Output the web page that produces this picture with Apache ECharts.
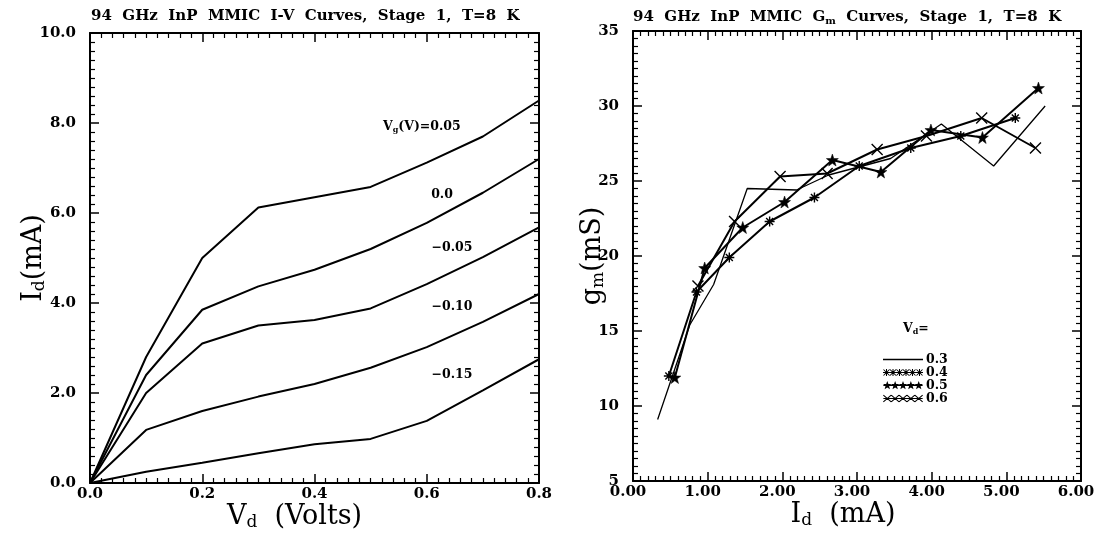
<!DOCTYPE html>
<html>
<head>
<meta charset="utf-8">
<title>94 GHz InP MMIC curves</title>
<script src="https://cdn.jsdelivr.net/npm/echarts@6/dist/echarts.min.js"></script>
<style>
  html, body { margin: 0; padding: 0; background: #fff; }
  #chart { width: 1101px; height: 533px; }
</style>
</head>
<body>
<div id="chart"></div>
<script>
// I-V curves (left), drain voltage in volts, drain current in mA
var vdVolts = [0, 0.1, 0.2, 0.3, 0.4, 0.5, 0.6, 0.7, 0.8];
var idVg005 = [0, 2.8, 5.0, 6.12, 6.35, 6.58, 7.12, 7.7, 8.5];
var idVg000 = [0, 2.4, 3.85, 4.37, 4.74, 5.2, 5.78, 6.45, 7.2];
var idVgm005 = [0, 2.0, 3.1, 3.5, 3.62, 3.88, 4.42, 5.02, 5.68];
var idVgm010 = [0, 1.18, 1.6, 1.92, 2.2, 2.56, 3.02, 3.58, 4.2];
var idVgm015 = [0, 0.25, 0.45, 0.66, 0.86, 0.98, 1.38, 2.06, 2.75];
var vgNames = ['0.05', '0.0', '-0.05', '-0.10', '-0.15'];

// gm curves (right), drain current in mA, gm in mS
var gm03Id = [0.33, 0.76, 1.08, 1.53, 2.19, 2.62, 3.45, 4.13, 4.83, 5.52];
var gm03 = [9.1, 15.4, 18.1, 24.5, 24.4, 25.4, 26.5, 28.8, 26.0, 30.0];
var gm04Id = [0.48, 0.85, 1.29, 1.83, 2.43, 3.03, 3.72, 4.39, 5.12];
var gm04 = [12.0, 17.6, 19.9, 22.3, 23.9, 26.0, 27.2, 28.0, 29.2];
var gm05Id = [0.56, 0.96, 1.47, 2.03, 2.67, 3.32, 3.99, 4.68, 5.43];
var gm05 = [11.9, 19.2, 21.9, 23.6, 26.4, 25.6, 28.4, 27.9, 31.2];
var gm06Id = [0.87, 1.36, 1.97, 2.6, 3.27, 3.93, 4.67, 5.39];
var gm06 = [18.0, 22.3, 25.3, 25.5, 27.1, 28.0, 29.2, 27.2];
var vdNames = ['0.3', '0.4', '0.5', '0.6'];

var serif = 'DejaVu Serif';
var symAsterisk = 'path://M0,-10L0,10M-10,0L10,0M-7,-7L7,7M-7,7L7,-7';
var symStar = 'path://M0,-10L2.35,-3.24L9.51,-3.09L3.8,1.24L5.88,8.09L0,4L-5.88,8.09L-3.8,1.24L-9.51,-3.09L-2.35,-3.24Z';
var symCross = 'path://M-10,-8L10,8M-10,8L10,-8';

function pairs(xs, ys) {
    var out = [];
    for (var i = 0; i < xs.length; i++) out.push([xs[i], ys[i]]);
    return out;
}
function eachOf(arr, fn) {
    for (var i = 0; i < arr.length; i++) fn(i, arr[i]);
}

// legend samples: filled outlines in a 40x10 box
function bar(x1, y1, x2, y2, w) {
    var dx = x2 - x1, dy = y2 - y1, len = Math.sqrt(dx * dx + dy * dy);
    var nx = -dy / len * w, ny = dx / len * w;
    return 'M' + (x1 + nx) + ',' + (y1 + ny) + 'L' + (x2 + nx) + ',' + (y2 + ny) +
        'L' + (x2 - nx) + ',' + (y2 - ny) + 'L' + (x1 - nx) + ',' + (y1 - ny) + 'Z';
}
function star(cx, cy, r) {
    var d = '';
    for (var i = 0; i < 10; i++) {
        var a = -Math.PI / 2 - i * Math.PI / 5;
        var rr = i % 2 ? r * 0.42 : r;
        d += (i ? 'L' : 'M') + (cx + rr * Math.cos(a)).toFixed(2) + ',' + (cy + rr * Math.sin(a)).toFixed(2);
    }
    return d + 'Z';
}
var iconBox = 'M0,0L0,0M40,10L40,10';
function iconLine(w) { return iconBox + bar(0, 5, 40, 5, w); }
function iconAsterisks() {
    var d = iconLine(0.6);
    eachOf([3.5, 10, 16.5, 23, 29.5, 36.5], function (k, cx) {
        d += bar(cx, 1.5, cx, 8.5, 0.5) + bar(cx - 3.5, 5, cx + 3.5, 5, 0.5) +
            bar(cx - 3, 2, cx + 3, 8, 0.5) + bar(cx - 3, 8, cx + 3, 2, 0.5);
    });
    return 'path://' + d;
}
function iconStars() {
    var d = iconLine(0.6);
    eachOf([4, 12, 20, 28, 36], function (k, cx) { d += star(cx, 5, 4.6); });
    return 'path://' + d;
}
function iconCrosses() {
    var d = iconLine(0.6);
    eachOf([4, 12, 20, 28, 36], function (k, cx) {
        d += bar(cx - 4, 1.5, cx + 4, 8.5, 0.55) + bar(cx - 4, 8.5, cx + 4, 1.5, 0.55);
    });
    return 'path://' + d;
}

// frame axis with inward ticks, labels only where wanted
function frameAxis(gridIndex, position, min, max, interval, decimals, labelMargin) {
    return {
        type: 'value',
        gridIndex: gridIndex,
        position: position,
        min: min,
        max: max,
        interval: interval,
        splitLine: { show: false },
        axisLine: { show: true, onZero: false, lineStyle: { color: '#000', width: 2 } },
        axisTick: { show: true, inside: true, length: 9, lineStyle: { color: '#000', width: 1.5 } },
        minorTick: { show: true, splitNumber: 10, length: 5, lineStyle: { color: '#000', width: 1.2 } },
        axisLabel: {
            show: decimals !== null,
            margin: labelMargin,
            color: '#000',
            fontFamily: serif,
            fontWeight: 'bold',
            fontSize: 15,
            formatter: function (v) { return v.toFixed(decimals); }
        }
    };
}

var nameRich = {
    m: { fontFamily: serif, fontSize: 27, color: '#000' },
    s: { fontFamily: serif, fontSize: 17, color: '#000', padding: [12, 0, 0, 0] }
};

var xLeft = frameAxis(0, 'bottom', 0, 0.8, 0.2, 1, 4);
xLeft.name = '{m|V}{s|d}{m|  (Volts)}';
xLeft.nameLocation = 'middle';
xLeft.nameGap = 19;
xLeft.nameMoveOverlap = false;
xLeft.nameTextStyle = { rich: nameRich, padding: [0, 40, 0, 0] };

var xRight = frameAxis(1, 'bottom', 0, 6, 1, 2, 4);
xRight.axisLabel.padding = [0, 10, 0, 0];
xRight.name = '{m|I}{s|d}{m|  (mA)}';
xRight.nameLocation = 'middle';
xRight.nameGap = 19;
xRight.nameMoveOverlap = false;
xRight.nameTextStyle = { rich: nameRich, padding: [0, 28, 0, 0] };

var yLeft = frameAxis(0, 'left', 0, 10, 2, 1, 14);
yLeft.name = '{m|I}{s|d}{m|(mA)}';
yLeft.nameLocation = 'middle';
yLeft.nameGap = 42;
yLeft.nameMoveOverlap = false;
yLeft.nameTextStyle = { rich: nameRich };

var yRight = frameAxis(1, 'left', 5, 35, 5, 0, 14);
yRight.name = '{m|g}{s|m}{m|(mS)}';
yRight.nameLocation = 'middle';
yRight.nameGap = 26;
yRight.nameMoveOverlap = false;
yRight.nameTextStyle = { rich: nameRich };

var ivColumns = [idVg005, idVg000, idVgm005, idVgm010, idVgm015];
var series = [];
eachOf(ivColumns, function (k, col) {
    series.push({
        name: 'Vg ' + vgNames[k],
        type: 'line',
        xAxisIndex: 0,
        yAxisIndex: 0,
        data: pairs(vdVolts, col),
        showSymbol: false,
        lineStyle: { color: '#000', width: 2 },
        itemStyle: { color: '#000' },
        silent: true
    });
});

function gmSeries(name, xs, ys, symbol, size, width) {
    return {
        name: name,
        type: 'line',
        xAxisIndex: 2,
        yAxisIndex: 2,
        data: pairs(xs, ys),
        symbol: symbol,
        symbolSize: size,
        showSymbol: symbol !== 'none',
        lineStyle: { color: '#000', width: width },
        itemStyle: { color: '#000', borderColor: '#000', borderWidth: symbol === symStar ? 0.5 : 1.4 },
        silent: true
    };
}
series.push(gmSeries(vdNames[0], gm03Id, gm03, 'none', 0, 1.3));
series.push(gmSeries(vdNames[1], gm04Id, gm04, symAsterisk, 10, 2));
series.push(gmSeries(vdNames[2], gm05Id, gm05, symStar, 12, 2));
series.push(gmSeries(vdNames[3], gm06Id, gm06, symCross, 11, 2));

var labelFont = { fontFamily: serif, fontWeight: 'bold', fontSize: 12.5, fill: '#000' };
function curveLabel(x, y, text) {
    return {
        type: 'text', x: x, y: y,
        style: Object.assign({ text: text, align: 'center', verticalAlign: 'middle' }, labelFont)
    };
}
var subRich = {
    b: { fontFamily: serif, fontWeight: 'bold', fontSize: 12.5, fill: '#000' },
    s: { fontFamily: serif, fontWeight: 'bold', fontSize: 8, fill: '#000', padding: [6, 0, 0, 0] }
};

var titleStyle = {
    fontFamily: serif, fontWeight: 'bold', fontSize: 15, color: '#000',
    rich: {
        t: { fontFamily: serif, fontWeight: 'bold', fontSize: 15, color: '#000' },
        s: { fontFamily: serif, fontWeight: 'bold', fontSize: 10, color: '#000', padding: [7, 0, 0, 0] }
    }
};

var myChart = echarts.init(document.getElementById('chart'), null, { renderer: 'canvas' });
var option = {
    backgroundColor: '#fff',
    animation: false,
    title: [
        { text: '94  GHz  InP  MMIC  I-V  Curves,  Stage  1,  T=8  K', left: 86, top: 4, textStyle: titleStyle },
        { text: '{t|94  GHz  InP  MMIC  G}{s|m}{t|  Curves,  Stage  1,  T=8  K}', left: 628, top: 4, textStyle: titleStyle }
    ],
    grid: [
        { left: 90, top: 33, width: 449, height: 450, outerBoundsMode: 'none' },
        { left: 633, top: 31, width: 448, height: 450, outerBoundsMode: 'none' }
    ],
    xAxis: [
        xLeft,
        frameAxis(0, 'top', 0, 0.8, 0.2, null, 0),
        xRight,
        frameAxis(1, 'top', 0, 6, 1, null, 0)
    ],
    yAxis: [
        yLeft,
        frameAxis(0, 'right', 0, 10, 2, null, 0),
        yRight,
        frameAxis(1, 'right', 5, 35, 5, null, 0)
    ],
    legend: {
        data: [
            { name: vdNames[0], icon: 'path://' + iconLine(0.65) },
            { name: vdNames[1], icon: iconAsterisks() },
            { name: vdNames[2], icon: iconStars() },
            { name: vdNames[3], icon: iconCrosses() }
        ],
        orient: 'vertical',
        left: 878,
        top: 348,
        itemWidth: 40,
        itemHeight: 10,
        itemGap: 0,
        selectedMode: false,
        itemStyle: { color: '#000', borderWidth: 0 },
        textStyle: { fontFamily: serif, fontWeight: 'bold', fontSize: 12.5, color: '#000', padding: [0, 0, 0, -2] }
    },
    graphic: [
        { type: 'text', x: 383, y: 120, style: { text: '{b|V}{s|g}{b|(V)=0.05}', rich: subRich } },
        curveLabel(442, 195, vgNames[1]),
        curveLabel(452, 248, vgNames[2].replace('-', '\u2212')),
        curveLabel(452, 307, vgNames[3].replace('-', '\u2212')),
        curveLabel(452, 375, vgNames[4].replace('-', '\u2212')),
        { type: 'text', x: 903, y: 322, style: { text: '{b|V}{s|d}{b|=}', rich: subRich } }
    ],
    series: series
};
myChart.setOption(option);
</script>
</body>
</html>
